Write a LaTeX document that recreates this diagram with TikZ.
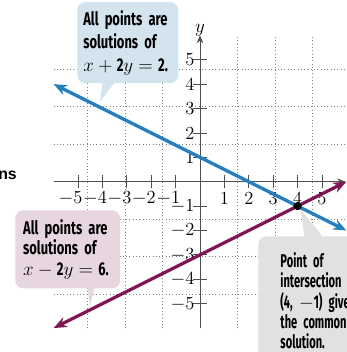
\documentclass[tikz,border=0pt]{standalone}
\usepackage{fontspec}
\usetikzlibrary{arrows.meta}
\newfontfamily\notefont[FakeStretch=0.7]{Fira Sans}
\newfontfamily\narrowfont[FakeStretch=0.6]{Fira Sans}
\newfontfamily\headfont{Liberation Sans}
\definecolor{lineblue}{RGB}{36,128,190}
\definecolor{lineplum}{RGB}{128,22,84}
\definecolor{noteblue}{RGB}{212,228,239}
\definecolor{notepink}{RGB}{231,214,223}
\definecolor{notegray}{RGB}{225,225,224}
\definecolor{axisgray}{RGB}{80,80,80}
\begin{document}
\begin{tikzpicture}[x=0.65cm,y=0.65cm,
    note/.style={rounded corners=6pt,anchor=north west,align=left,inner ysep=0pt,
      font=\notefont\bfseries\fontsize{14}{15.5}\selectfont},
    num/.style={font=\fontsize{14}{16}\selectfont,inner sep=0pt},
    graphline/.style={line width=2.5pt,{Stealth[length=10pt,width=8pt]}-{Stealth[length=10pt,width=8pt]}}]
        \useasboundingbox (-8.197,-6.98) rectangle (6.025,7.447);
        \clip (-8.197,-6.98) rectangle (6.025,7.447);
        \fill[white] (-8.197,-6.98) rectangle (6.025,7.447);
        \draw[gray,dotted,line width=0.5pt] (-6,-6) grid (6,6);
        % callouts
        \coordinate (bluetip) at (-4.1,3.27);
        \coordinate (pinktip) at (-4.51,-5.07);
        \coordinate (graytip) at (4.1,-1.09);
        \fill[noteblue] (-3.98,4.2) -- (bluetip) -- (-3.4,4.2) -- cycle;
        \fill[notepink] (-4.63,-4.25) -- (pinktip) -- (-4.3,-4.25) -- cycle;
        \fill[notegray] (4.3,-2.35) -- (graytip) -- (5.1,-2.35) -- cycle;
        \node[note,fill=noteblue,inner xsep=0.16cm,text width=2.37cm,minimum height=2.16cm,
          font=\notefont\bfseries\fontsize{14}{17.5}\selectfont] (bluenote) at (-5.04,7.37)
          {All~points~are\\solutions~of\\\(x+{}\)2\(y={}\)2.};
        \node[note,fill=notepink,inner xsep=0.21cm,text width=2.37cm,minimum height=2.08cm] (pinknote) at (-7.58,-1.16)
          {All~points~are\\solutions~of\\\(x-{}\)2\(y={}\)6.};
        \node[note,fill=notegray,inner xsep=0.59cm,inner ysep=0.42cm,text width=3.2cm,
          font=\narrowfont\bfseries\fontsize{14}{15.5}\selectfont] (graynote) at (2.38,-2.23)
          {Point~of\\intersection\\(4,~\(-\)1)~gives\\the~common\\solution.};
        % axes
        \draw[axisgray,line width=0.6pt,-{Stealth[length=6pt,width=5pt]}] (-6,0) -- (5.95,0);
        \draw[axisgray,line width=0.6pt,-{Stealth[length=6pt,width=5pt]}] (0,-6) -- (0,6);
        \node[num] (ylabel) at (0,6.2) {\(y\)};
        \foreach \k in {1,...,5} {
            \draw[axisgray,line width=0.6pt] (\k,-0.27) -- (\k,0.27);
            \draw[axisgray,line width=0.6pt] (-\k,-0.27) -- (-\k,0.27);
            \draw[axisgray,line width=0.6pt] (-0.28,\k) -- (0.28,\k);
            \draw[axisgray,line width=0.6pt] (-0.28,-\k) -- (0.28,-\k);
            \node[num] (xp\k) at (\k,-0.68) {\k};
            \node[num] (xm\k) at (-\k,-0.68) {\llap{\(-\)}\k};
            \node[num,anchor=east] (yp\k) at (-0.22,\k) {\k};
            \node[num,anchor=east] (ym\k) at (-0.22,-\k) {\(-\)\k};
        }
        % the two lines
        \coordinate (bl) at (-6,4);
        \coordinate (br) at (6,-2);
        \coordinate (pl) at (-6,-6);
        \coordinate (pr) at (6,0);
        \draw[graphline,lineblue] (bl) -- (br);
        \draw[graphline,lineplum] (pl) -- (pr);
        \fill[black] (4,-1) circle (0.17);
        \node[font=\headfont\bfseries\fontsize{12}{14}\selectfont,anchor=base east,inner sep=0pt] (cuthead) at (-7.5,0.07) {ns};
\end{tikzpicture}
\end{document}
